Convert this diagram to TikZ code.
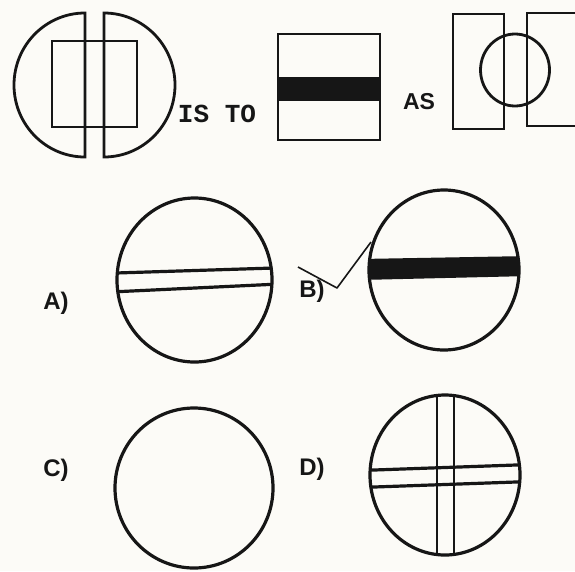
\documentclass[tikz,border=0pt]{standalone}
\usepackage{fontspec}
\newfontfamily\monofont{Liberation Mono}
\newfontfamily\labfont{Liberation Sans}
\definecolor{ink}{HTML}{161616}
\definecolor{paper}{HTML}{FCFBF7}
\tikzset{
  fig/.style={draw=ink, line width=2.8pt},
  thinfig/.style={draw=ink, line width=2.4pt},
  ring/.style={draw=ink, line width=3.2pt},
  bar/.style={draw=ink, line width=3.2pt},
  lab/.style={font=\labfont\bfseries\fontsize{24}{24}\selectfont, text=ink, inner sep=0pt},
}
\begin{document}
\begin{tikzpicture}[x=1pt,y=-1pt]
\fill[paper] (0,0) rectangle (575,571);
\useasboundingbox (0,0) rectangle (575,571);

% ---- top left: split circle with rectangle
\draw[fig] (85,13) arc[start angle=-90,end angle=-270,x radius=71,y radius=72] -- cycle;
\draw[fig] (104,13) arc[start angle=-90,end angle=90,x radius=71,y radius=72] -- cycle;
\draw[thinfig] (52,41) rectangle (137,127);
\node[font=\monofont\bfseries\fontsize{26}{26}\selectfont, text=ink, inner sep=0pt] (isto) at (217,114) {IS TO};

% ---- top middle: square with black band
\draw[fig] (278,34) rectangle (380,140);
\fill[ink] (278,77) rectangle (380,101);
\node[font=\labfont\bfseries\fontsize{23}{23}\selectfont, text=ink, inner sep=0pt] (as) at (419,102) {AS};

% ---- top right: two rectangles and a circle
\draw[fig] (453,14) rectangle (504,129);
\draw[fig] (578,13) -- (527,13) -- (527,126) -- (578,126);
\draw[fig] (515,70) ellipse[x radius=34.5,y radius=36];

% ---- option A
\node[lab] (la) at (56,303) {A)};
\begin{scope}
  \clip (194.5,280) ellipse[x radius=77.5,y radius=82];
  \draw[bar] (100,273.5) -- (290,267.5);
  \draw[bar] (100,292.5) -- (290,283.5);
\end{scope}
\draw[ring] (194.5,280) ellipse[x radius=77.5,y radius=82];

% ---- option B
\node[lab] (lb) at (312,291) {B)};
\coordinate (t1) at (298,267);
\coordinate (t2) at (337,288);
\coordinate (t3) at (371,242);
\draw[draw=ink, line width=1.6pt, line join=round] (t1) -- (t2) -- (t3);
\begin{scope}
  \clip (444,270) ellipse[x radius=75,y radius=80];
  \fill[ink] (360,259) -- (530,256) -- (530,276) -- (360,280) -- cycle;
\end{scope}
\draw[ring] (444,270) ellipse[x radius=75,y radius=80];

% ---- option C
\node[lab] (lc) at (56,470) {C)};
\draw[ring] (194,488) ellipse[x radius=79,y radius=80];

% ---- option D
\node[lab] (ld) at (312,469) {D)};
\begin{scope}
  \clip (445,475) ellipse[x radius=75,y radius=80];
  \draw[bar, line width=2.8pt] (437,380) -- (437,570);
  \draw[bar, line width=2.8pt] (454,380) -- (454,570);
  \draw[bar] (360,470.5) -- (530,464.5);
  \draw[bar] (360,487.5) -- (530,481.5);
\end{scope}
\draw[ring] (445,475) ellipse[x radius=75,y radius=80];
\end{tikzpicture}
\end{document}
